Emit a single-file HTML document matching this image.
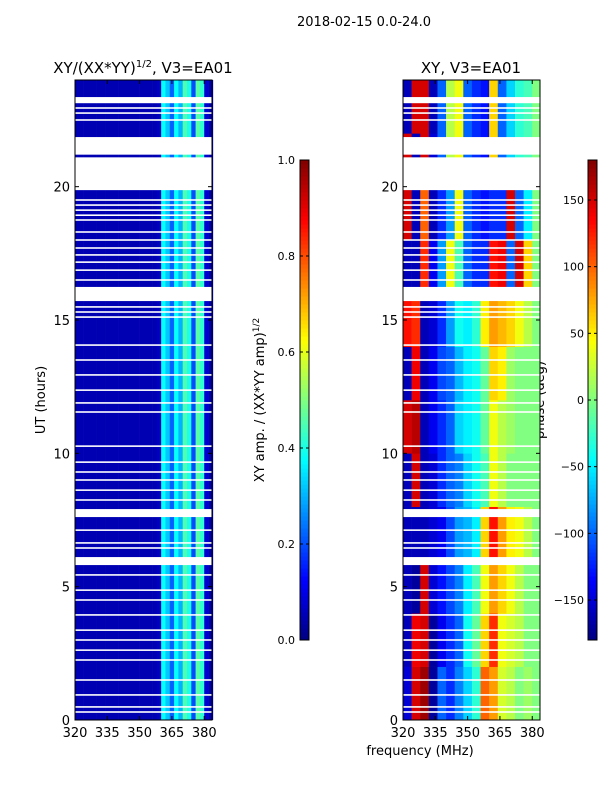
<!DOCTYPE html>
<html><head><meta charset="utf-8"><style>
body{margin:0;background:#fff;width:600px;height:800px;overflow:hidden;font-family:"Liberation Sans","DejaVu Sans",sans-serif}
svg text{font-family:"DejaVu Sans","Liberation Sans",sans-serif;fill:#000}
</style></head><body>
<svg id="chart" width="600" height="800" xmlns="http://www.w3.org/2000/svg">
<rect width="600" height="800" fill="#fff"/>
<text x="364" y="26" font-size="13" text-anchor="middle">2018-02-15 0.0-24.0</text>
<text x="143" y="73" font-size="15" text-anchor="middle">XY/(XX*YY)<tspan font-size="10" dy="-6">1/2</tspan><tspan dy="6">, V3=EA01</tspan></text>
<text x="471" y="73" font-size="15" text-anchor="middle">XY, V3=EA01</text>
<text transform="translate(45,400) rotate(-90)" font-size="13" text-anchor="middle">UT (hours)</text>
<text x="420" y="755" font-size="13" text-anchor="middle">frequency (MHz)</text>
<text transform="translate(264,400) rotate(-90)" font-size="13" text-anchor="middle">XY amp. / (XX*YY amp)<tspan font-size="9" dy="-5">1/2</tspan></text>
<text transform="translate(544,400) rotate(-90)" font-size="13" text-anchor="middle">phase (deg)</text>
<g id="g"></g>
</svg>
<script>
// ---- data ----
const ampChannels = [320,322,324,326,328,330,332,334,336,338,340,342,344,346,348,350,352,354,356,358,360,362,364,366,368,370,372,374,376,378,380,382];
const ampValues = [0.05,0.05,0.05,0.05,0.05,0.05,0.05,0.05,0.05,0.05,0.05,0.05,0.05,0.05,0.05,0.05,0.05,0.05,0.05,0.06,0.38,0.32,0.22,0.38,0.3,0.45,0.4,0.2,0.46,0.42,0.08,0.05];
const phaseChannels = [320,324,328,332,336,340,344,348,352,356,360,364,368,372,376,380];
const phaseBlocks = [0,2,4,6,8,10,12,14,16,18,20,22];
const phaseValues = [
 [-150,150,170,-170,-100,-120,-90,-60,-30,100,80,30,20,0,10,0],
 [-160,140,150,-170,-140,-120,-100,-40,-10,60,120,40,30,20,0,0],
 [-160,-170,150,-150,-130,-110,-90,-50,-20,40,80,60,40,20,0,0],
 [-160,-160,-160,-150,-140,-110,-80,-70,-50,60,130,80,50,40,20,0],
 [-160,150,-160,-150,-120,-100,-90,-60,-40,-20,40,20,0,0,0,0],
 [150,160,-160,-140,-120,-100,-60,-50,-40,-10,40,20,10,0,0,0],
 [-160,140,-160,-140,-110,-100,-70,-50,-40,-10,60,50,10,0,0,0],
 [130,120,-160,-150,-120,-80,-40,-50,-30,50,80,70,60,40,20,0],
 [-160,-160,120,-140,-80,40,-20,-100,-120,-120,130,140,-100,150,60,0],
 [150,-160,100,-160,-120,-80,40,-100,-120,-130,-120,-120,150,-100,-50,0],
 [150,-160,150,-150,-100,20,40,-100,-120,-130,60,-100,-60,-30,-20,0],
 [-160,150,150,-160,-100,20,40,-100,-120,-130,60,-100,-60,-30,-20,0]
];
const flagStart = [23.13,19.87,21.2,15.71,7.61,5.81];
const flagEnd   = [23.36,21.1,21.86,16.24,7.91,6.11];
const thinFlags = [22.95,22.76,22.5,19.5,19.31,19.12,18.93,18.75,18.3,18.0,17.7,17.44,17.17,16.87,16.5,15.49,15.3,15.11,14.06,13.5,12.94,12.37,11.89,11.55,10.27,9.67,9.3,9.0,8.62,8.25,7.12,6.64,6.45,5.44,4.87,4.5,3.94,3.37,3.0,2.62,2.25,1.5,0.94,0.49,0.3];
const xTicks = [320,335,350,365,380];
const yTicks = [0,5,10,15,20];
const ampCbTicks = [0.0,0.2,0.4,0.6,0.8,1.0];
const phaseCbTicks = [-150,-100,-50,0,50,100,150];

// ---- helpers ----
const NS='http://www.w3.org/2000/svg', G=document.getElementById('g');
function mk(t,a,p){const e=document.createElementNS(NS,t);for(const k in a)e.setAttribute(k,a[k]);(p||G).appendChild(e);return e;}
function jet(v){v=Math.max(0,Math.min(1,v));
 const r=Math.max(0,Math.min(1,Math.min(4*v-1.5,-4*v+4.5)));
 const g=Math.max(0,Math.min(1,Math.min(4*v-0.5,-4*v+3.5)));
 const b=Math.max(0,Math.min(1,Math.min(4*v+0.5,-4*v+2.5)));
 return `rgb(${Math.round(r*255)},${Math.round(g*255)},${Math.round(b*255)})`;}
const Y0=720,Y1=80,XMIN=320,XMAX=383.6;
const yS=h=>Y0-(h/24)*(Y0-Y1);
function panel(L,R){return f=>L+(f-XMIN)/(XMAX-XMIN)*(R-L);}
const xA=panel(75,212), xP=panel(403,540);

ampChannels.forEach((f,i)=>{
 const c=mk('rect',{x:xA(f),y:Y1,width:xA(f+2)-xA(f)+0.3,height:Y0-Y1,fill:jet(ampValues[i])});
 
 
});
phaseBlocks.forEach((b,j)=>{
 phaseChannels.forEach((f,i)=>{
  const x1=xP(f), x2=xP(Math.min(f+4,XMAX));
  const c=mk('rect',{x:x1,y:yS(b+2),width:x2-x1+0.3,height:yS(b)-yS(b+2)+0.3,fill:jet((phaseValues[j][i]+180)/360)});
  
  
 });
});
[[75,212],[403,540]].forEach(([L,R])=>{
 flagStart.forEach((s,i)=>{
  const r=mk('rect',{x:L,y:yS(flagEnd[i]),width:R-L,height:yS(s)-yS(flagEnd[i]),fill:'#fff'});
  
  
 });
 thinFlags.forEach(h=>{
  const r=mk('rect',{x:L,y:yS(h+0.03),width:R-L,height:1.6,fill:'#fff'});
  
  
 });
});
[[75,212,xA,'amp'],[403,540,xP,'phase']].forEach(([L,R,xs,n])=>{
 const f=mk('rect',{x:L,y:Y1,width:R-L,height:Y0-Y1,fill:'none',stroke:'#000','stroke-width':1});
 
 
 xTicks.forEach(t=>{const x=xs(t);
  mk('line',{x1:x,x2:x,y1:Y0,y2:Y0-4,stroke:'#000'});mk('line',{x1:x,x2:x,y1:Y1,y2:Y1+4,stroke:'#000'});
  const tx=mk('text',{x:x,y:Y0+17,'font-size':13,'text-anchor':'middle'});tx.textContent=t;
  
  
 });
 yTicks.forEach(t=>{const y=yS(t);
  mk('line',{x1:L,x2:L+4,y1:y,y2:y,stroke:'#000'});mk('line',{x1:R,x2:R-4,y1:y,y2:y,stroke:'#000'});
  const tx=mk('text',{x:L-5,y:y+5,'font-size':13,'text-anchor':'end'});tx.textContent=t;
  
  
 });
});
function cbar(L,W,ticks,vmin,vmax,n,fmt,lx){
 const T=160,B=640,steps=120;
 for(let k=0;k<steps;k++){
  mk('rect',{x:L,y:B-(k+1)*(B-T)/steps,width:W,height:(B-T)/steps+0.5,fill:jet((k+0.5)/steps)});
 }
 const f=mk('rect',{x:L,y:T,width:W,height:B-T,fill:'none',stroke:'#000'});
 
 
 ticks.forEach(t=>{const y=B-(t-vmin)/(vmax-vmin)*(B-T);
  mk('line',{x1:L,x2:L+3,y1:y,y2:y,stroke:'#000'});mk('line',{x1:L+W,x2:L+W-3,y1:y,y2:y,stroke:'#000'});
  const tx=mk('text',{x:lx,y:y+4,'font-size':11,'text-anchor':'end'});
  tx.textContent=fmt(t);
  
  
 });
}
cbar(300,9,ampCbTicks,0,1,'amp',t=>t.toFixed(1),295);
cbar(588,9,phaseCbTicks,-180,180,'phase',t=>t<0?'\u2212'+(-t):''+t,584);
</script>
</body></html>
